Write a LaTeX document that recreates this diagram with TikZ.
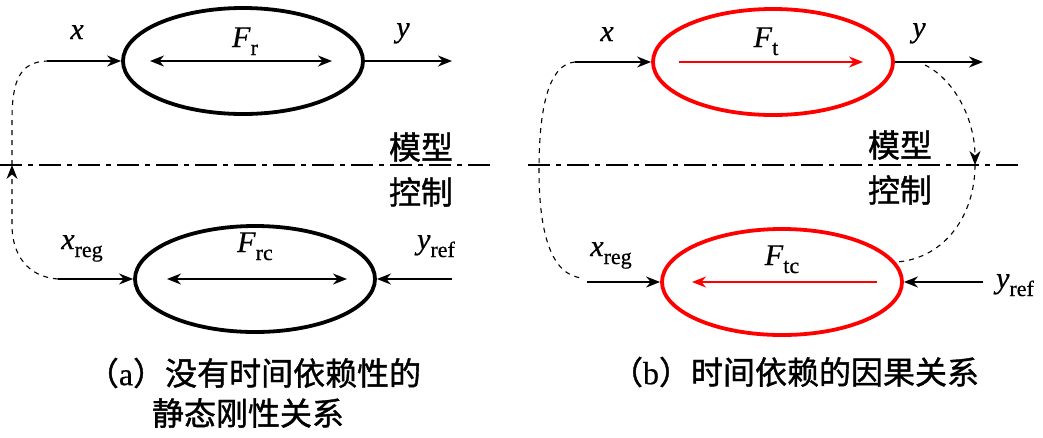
\documentclass[tikz,border=0pt]{standalone}
\usepackage{fontspec}
\setmainfont[FakeBold=0.6]{Liberation Serif}
\newfontfamily\cjk[FakeBold=1.2]{Noto Sans CJK SC}
\usetikzlibrary{shapes.geometric,arrows.meta}
\newcommand\lsub[1]{\raisebox{-8pt}{\fontsize{22}{22}\selectfont #1}}
\tikzset{
  blob/.style={ellipse, draw, line width=3.8pt, minimum width=240pt, minimum height=106pt, inner sep=0pt},
  redblob/.style={blob, draw=red},
  sig/.style={line width=1.8pt, -{Stealth[length=14pt,width=11pt]}},
  dsig/.style={line width=1.8pt, {Stealth[length=14pt,width=11pt]}-{Stealth[length=14pt,width=11pt]}},
  rsig/.style={line width=1.6pt, red, -{Stealth[length=14pt,width=11pt]}},
  fb/.style={line width=1.1pt, dash pattern=on 5pt off 5pt},
  fbarrow/.style={fb, -{Stealth[length=14pt,width=11pt]}},
  divider/.style={line width=1.6pt, dash pattern=on 22pt off 6pt on 5pt off 6pt},
  lbl/.style={font=\fontsize{30}{30}\selectfont, inner sep=0pt, anchor=base},
  cn/.style={font=\fontsize{32}{32}\selectfont\cjk, inner sep=0pt},
}
\begin{document}
\begin{tikzpicture}[x=1pt,y=-1pt]
\useasboundingbox (0,0) rectangle (1043,437);

% ---------------- left panel ----------------
\node[blob] (E1) at (243,61) {};
\node[blob] (E2) at (255,279) {};
\coordinate (a1) at (150,61); \coordinate (a2) at (332,61);
\draw[dsig] (a1) -- (a2);
\coordinate (b1) at (167,279); \coordinate (b2) at (347,279);
\draw[dsig] (b1) -- (b2);
\node[lbl] (Fr) at (245,47) {\textit{F}\lsub{r}};
\node[lbl] (Frc) at (255,252) {\textit{F}\lsub{rc}};

\coordinate (xs) at (47,61);
\coordinate (ye) at (452,61);
\draw[sig] (xs) -- (E1.west);
\draw[sig] (E1.east) -- (ye);
\node[lbl] (xl) at (77,39) {\textit{x}};
\node[lbl] (yl) at (403,37) {\textit{y}};

\coordinate (xrs) at (58,279);
\coordinate (yrs) at (452,279);
\draw[sig] (xrs) -- (E2.west);
\draw[sig] (yrs) -- (E2.east);
\node[lbl] (xrl) at (82,249) {\textit{x}\lsub{reg}};
\node[lbl] (yrl) at (436,249) {\textit{y}\lsub{ref}};

\coordinate (lm) at (12,165);
\draw[fbarrow] (xrs) .. controls (28,277) and (12,255) .. (12,225) -- (lm);
\draw[fb] (lm) -- (12,120) .. controls (12,80) and (20,62) .. (xs);

\coordinate (d1) at (0,165); \coordinate (d2) at (493,165);
\draw[divider] (d1) -- (d2);
\node[cn] (m1) at (421,147) {模型};
\node[cn] (k1) at (421,192) {控制};

\node[cn, anchor=center] (capa1) at (254,373) {（\textrm{a}）没有时间依赖性的};
\node[cn, anchor=center] (capa2) at (248,413) {静态刚性关系};

% ---------------- right panel ----------------
\node[redblob] (E3) at (773,62) {};
\node[redblob] (E4) at (782,282) {};
\coordinate (c1) at (679,62); \coordinate (c2) at (863,62);
\draw[rsig] (c1) -- (c2);
\coordinate (e1) at (877,282); \coordinate (e2) at (692,282);
\draw[rsig] (e1) -- (e2);
\node[lbl] (Ft) at (766,47) {\textit{F}\lsub{t}};
\node[lbl] (Ftc) at (782,265) {\textit{F}\lsub{tc}};

\coordinate (xs2) at (575,62);
\coordinate (ye2) at (983,62);
\draw[sig] (xs2) -- (E3.west);
\draw[sig] (E3.east) -- (ye2);
\node[lbl] (xl2) at (607,41) {\textit{x}};
\node[lbl] (yl2) at (919,37) {\textit{y}};

\coordinate (xrs2) at (587,282);
\coordinate (yrs2) at (983,282);
\draw[sig] (xrs2) -- (E4.west);
\draw[sig] (yrs2) -- (E4.east);
\node[lbl] (xrl2) at (611,256) {\textit{x}\lsub{reg}};
\node[lbl] (yrl2) at (1015,288) {\textit{y}\lsub{ref}};

\coordinate (ls) at (583,278);
\draw[fb] (xs2) .. controls (548,64) and (539,110) .. (539,170) .. controls (539,230) and (550,276) .. (ls);

\coordinate (rs) at (925,65);
\coordinate (rm) at (975,165);
\coordinate (re) at (897,262);
\draw[fbarrow] (rs) .. controls (955,80) and (975,120) .. (rm);
\draw[fb] (rm) .. controls (975,215) and (945,258) .. (re);

\coordinate (d3) at (528,165); \coordinate (d4) at (1022,165);
\draw[divider] (d3) -- (d4);
\node[cn] (m2) at (900,145) {模型};
\node[cn] (k2) at (900,190) {控制};

\node[cn, anchor=center] (capb) at (795,372) {（\textrm{b}）时间依赖的因果关系};
\end{tikzpicture}
\end{document}
